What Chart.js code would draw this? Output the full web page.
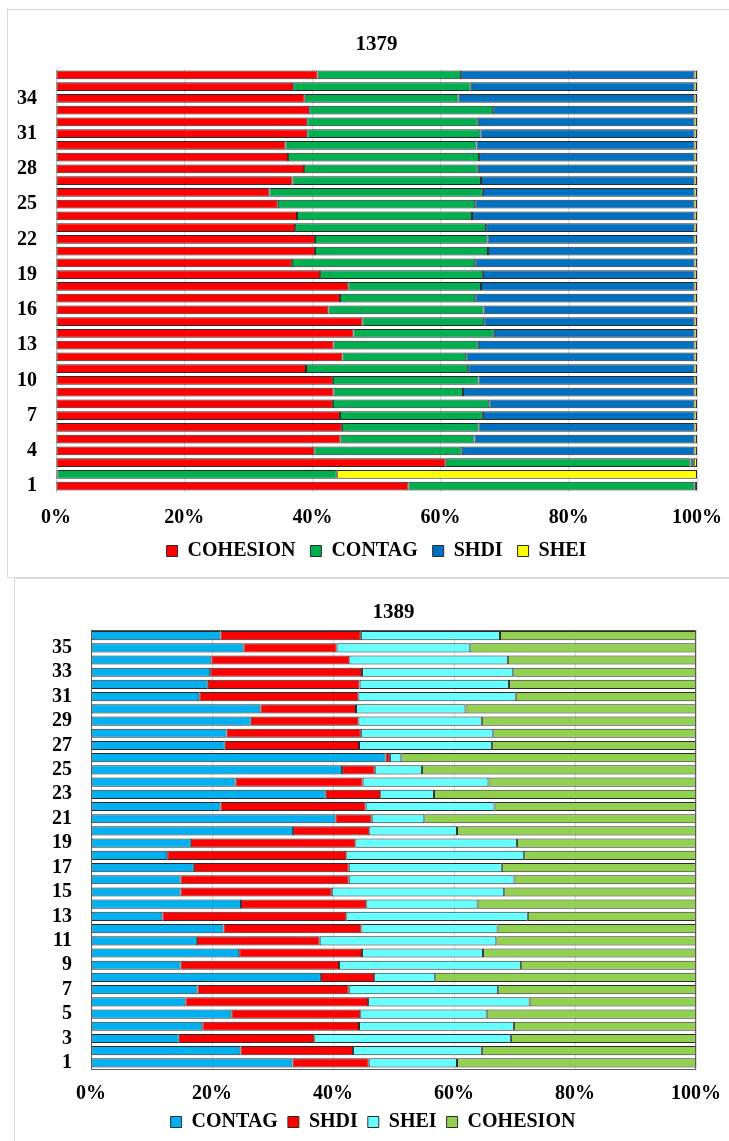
<!DOCTYPE html>
<html>
<head>
<meta charset="utf-8">
<script src="https://cdn.jsdelivr.net/npm/chart.js@4.4.1/dist/chart.umd.min.js"></script>
<style>
  html, body { margin: 0; padding: 0; background: #fff; overflow: hidden; width: 729px; height: 1141px; }
  .caja { position: absolute; border: 1px solid #d9d9d9; background: #fff; }
  #caja1 { left: 7px; top: 9px; width: 735px; height: 567px; }
  #caja2 { left: 14px; top: 578px; width: 730px; height: 570px; }
  canvas { display: block; }
</style>
</head>
<body>
<div class="caja" id="caja1"><canvas id="grafico1" width="735" height="567"></canvas></div>
<div class="caja" id="caja2"><canvas id="grafico2" width="730" height="563"></canvas></div>
<script>
// Categorias (1 abajo, 36 arriba)
const categorias = ['1','2','3','4','5','6','7','8','9','10','11','12','13','14','15','16','17','18',
                    '19','20','21','22','23','24','25','26','27','28','29','30','31','32','33','34','35','36'];

// 1379 - porcentajes de cada indice
const cohesion1379 = [55.0, 0.2, 60.8, 40.3, 44.4, 44.6, 44.3, 43.2, 43.3, 43.2, 39.0, 44.7, 43.3, 46.4, 47.8, 42.5, 44.3, 45.6,
                      41.2, 36.8, 40.4, 40.4, 37.3, 37.6, 34.6, 33.3, 36.9, 38.7, 36.2, 35.8, 39.2, 39.2, 39.5, 38.8, 37.0, 40.8];
const contag1379   = [44.6, 43.6, 38.2, 23.0, 20.9, 21.3, 22.3, 24.4, 20.2, 22.7, 25.3, 19.3, 22.5, 21.9, 19.0, 24.2, 21.1, 20.7,
                      25.4, 28.6, 27.0, 26.9, 29.8, 27.3, 30.8, 33.3, 29.4, 27.1, 29.8, 29.8, 27.0, 26.6, 28.7, 24.0, 27.7, 22.4];
const shdi1379     = [0.1, 0.0, 0.5, 36.3, 34.3, 33.7, 33.0, 32.0, 36.1, 33.7, 35.3, 35.6, 33.8, 31.3, 32.8, 32.9, 34.2, 33.3,
                      33.0, 34.2, 32.2, 32.3, 32.5, 34.7, 34.2, 33.0, 33.3, 33.8, 33.6, 34.0, 33.4, 33.8, 31.4, 36.8, 34.9, 36.4];
const shei1379     = [0.3, 56.2, 0.5, 0.4, 0.4, 0.4, 0.4, 0.4, 0.4, 0.4, 0.4, 0.4, 0.4, 0.4, 0.4, 0.4, 0.4, 0.4,
                      0.4, 0.4, 0.4, 0.4, 0.4, 0.4, 0.4, 0.4, 0.4, 0.4, 0.4, 0.4, 0.4, 0.4, 0.4, 0.4, 0.4, 0.4];

// 1389 - porcentajes de cada indice
const contag1389   = [33.3, 24.7, 14.5, 18.4, 23.2, 15.6, 17.6, 38.0, 14.8, 24.5, 17.5, 21.9, 11.8, 24.8, 14.8, 14.8, 17.0, 12.6,
                      16.5, 33.4, 40.4, 21.4, 38.8, 23.9, 41.5, 48.7, 22.1, 22.4, 26.4, 28.0, 17.9, 19.3, 19.7, 19.9, 25.2, 21.4];
const shdi1389     = [12.6, 18.6, 22.4, 25.9, 21.3, 30.2, 25.0, 8.8, 26.2, 20.3, 20.3, 22.8, 30.4, 20.7, 25.0, 27.8, 25.6, 29.6,
                      27.2, 12.6, 6.0, 24.0, 9.0, 21.0, 5.4, 0.7, 22.2, 22.2, 17.8, 15.8, 26.3, 25.1, 25.1, 22.8, 15.4, 23.2];
const shei1389     = [14.6, 21.3, 32.5, 25.6, 20.9, 26.7, 24.7, 10.1, 30.1, 20.0, 29.2, 22.5, 30.0, 18.4, 28.5, 27.4, 25.3, 29.4,
                      26.7, 14.5, 8.7, 21.3, 8.9, 20.8, 7.8, 1.9, 22.0, 21.9, 20.4, 18.1, 26.0, 24.7, 25.0, 26.2, 22.1, 23.0];
const cohesion1389 = [39.5, 35.4, 30.6, 30.1, 34.6, 27.5, 32.7, 43.1, 28.9, 35.2, 33.0, 32.8, 27.8, 36.1, 31.7, 30.0, 32.1, 28.4,
                      29.6, 39.5, 44.9, 33.3, 43.3, 34.3, 45.3, 48.7, 33.7, 33.5, 35.4, 38.1, 29.8, 30.9, 30.2, 31.1, 37.3, 32.4];

document.addEventListener('DOMContentLoaded', function() {
    const fuente = '"Liberation Serif", "Times New Roman", serif';

    // Marco alrededor del area del grafico
    const marcoPlot = {
        id: 'marcoPlot',
        afterDraw(chart, args, opts) {
            if (!opts.color) return;
            const a = chart.chartArea;
            const c = chart.ctx;
            c.save();
            c.strokeStyle = opts.color;
            c.lineWidth = 1;
            c.strokeRect(Math.round(a.left) + 0.5, Math.round(a.top) + 0.5,
                         Math.round(a.right - a.left) - 1, Math.round(a.bottom - a.top) - 1);
            c.restore();
        }
    };

    function serie(nombre, datos, color) {
        return {
            label: nombre,
            data: datos,
            backgroundColor: color,
            borderColor: '#2b2b2b',
            borderWidth: 1,
            borderSkipped: false,
            barPercentage: 0.75,
            categoryPercentage: 1
        };
    }

    // cfg: ajustes de posicion de cada grafico
    function opciones(titulo, cfg) {
        return {
            indexAxis: 'y',
            responsive: false,
            animation: false,
            devicePixelRatio: 1,
            layout: { padding: cfg.layout },
            scales: {
                x: {
                    stacked: true,
                    min: 0,
                    max: 100,
                    grid: { color: '#d9d9d9', drawTicks: false },
                    border: { display: false },
                    ticks: {
                        stepSize: 20,
                        padding: cfg.padX,
                        color: '#000',
                        font: { family: fuente, size: 20, weight: 'bold', lineHeight: 0.8 },
                        callback: v => v + '%'
                    },
                    afterFit: s => { s.height = cfg.altoX; }
                },
                y: {
                    stacked: true,
                    reverse: true,
                    grid: { display: false, drawTicks: false },
                    border: { display: true, color: '#bfbfbf' },
                    ticks: {
                        autoSkip: false,
                        padding: 19,
                        color: '#000',
                        font: { family: fuente, size: 20, weight: 'bold' },
                        callback: function(value, index) {
                            return index % cfg.cada === 0 ? this.getLabelForValue(value) : '';
                        }
                    },
                    afterFit: s => { s.width = cfg.anchoY; }
                }
            },
            plugins: {
                tooltip: { enabled: false },
                title: {
                    display: true,
                    text: titulo,
                    fullSize: false,
                    color: '#000',
                    font: { family: fuente, size: 21, weight: 'bold' },
                    padding: cfg.tit
                },
                legend: {
                    position: 'bottom',
                    fullSize: cfg.leyendaCompleta,
                    labels: {
                        color: '#000',
                        boxWidth: 11,
                        boxHeight: 11,
                        padding: cfg.padLeyenda,
                        font: { family: fuente, size: 20, weight: 'bold' }
                    }
                },
                marcoPlot: { color: cfg.marco }
            }
        };
    }

    // Grafico 1379
    const ctx1 = document.getElementById('grafico1').getContext('2d');
    new Chart(ctx1, {
        type: 'bar',
        data: {
            labels: categorias,
            datasets: [
                serie('COHESION', cohesion1379, '#FF0000'),
                serie('CONTAG', contag1379, '#00B050'),
                serie('SHDI', shdi1379, '#0070C0'),
                serie('SHEI', shei1379, '#FFFF00')
            ]
        },
        options: opciones('1379', {
            cada: 3, anchoY: 48, altoX: 34, padX: 18, padLeyenda: 15,
            tit: { top: 22.4, bottom: 11.4 },
            layout: { left: 0, right: 46, top: 0, bottom: 6 },
            leyendaCompleta: false, marco: null
        }),
        plugins: [marcoPlot]
    });

    // Grafico 1389
    const ctx2 = document.getElementById('grafico2').getContext('2d');
    new Chart(ctx2, {
        type: 'bar',
        data: {
            labels: categorias,
            datasets: [
                serie('CONTAG', contag1389, '#00B0F0'),
                serie('SHDI', shdi1389, '#FF0000'),
                serie('SHEI', shei1389, '#66FFFF'),
                serie('COHESION', cohesion1389, '#92D050')
            ]
        },
        options: opciones('1389', {
            cada: 2, anchoY: 41, altoX: 33, padX: 17, padLeyenda: 10,
            tit: { top: 21.4, bottom: 3.9 },
            layout: { left: 35, right: 49, top: 0, bottom: 0 },
            leyendaCompleta: true, marco: '#595959'
        }),
        plugins: [marcoPlot]
    });
});
</script>
</body>
</html>
